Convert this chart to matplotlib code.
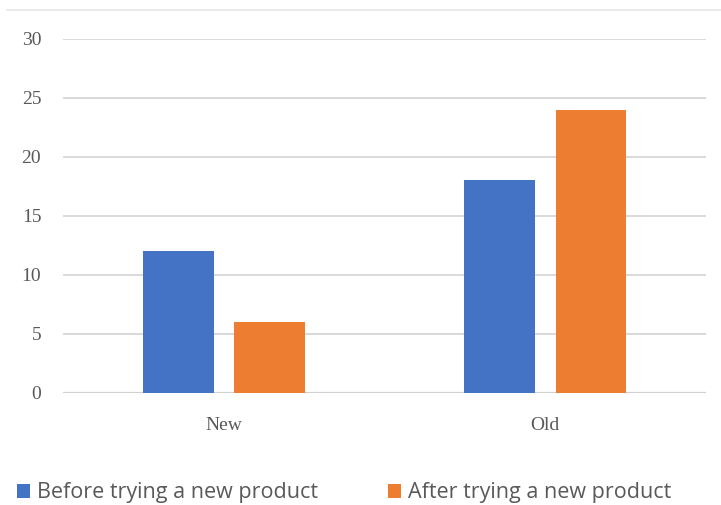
import matplotlib
matplotlib.use("Agg")
import matplotlib.pyplot as plt
from matplotlib.lines import Line2D
import numpy as np

CATEGORIES = ["New", "Old"]
BEFORE = [12, 18]
AFTER = [6, 24]
LABELS = ["Before trying a new product", "After trying a new product"]
COLORS = ["#4472C4", "#ED7D31"]
YTICKS = [0, 5, 10, 15, 20, 25, 30]

fig = plt.figure(figsize=(7.21, 5.05), dpi=100)
ax = fig.add_axes([0.088, 0.222, 0.891, 0.701])

x = np.arange(len(CATEGORIES))
w = 0.22
off = 0.1425
b1 = ax.bar(x - off, BEFORE, w, color=COLORS[0], label=LABELS[0], zorder=3)
b2 = ax.bar(x + off, AFTER, w, color=COLORS[1], label=LABELS[1], zorder=3)

ax.set_xlim(-0.5, 1.5)
ax.set_ylim(0, 30)
ax.set_yticks(YTICKS)
ax.set_xticks(x)
ax.set_xticklabels(CATEGORIES)
ax.grid(axis="y", color="#d9d9d9", linewidth=1.4, zorder=0)
for s in ax.spines.values():
    s.set_visible(False)
ax.axhline(0, color="#d0d0d0", linewidth=1.6, zorder=2)
ax.tick_params(length=0, colors="#595959", labelsize=14)
ax.tick_params(axis="y", pad=16)
ax.tick_params(axis="x", pad=17)
for t in ax.get_xticklabels() + ax.get_yticklabels():
    t.set_fontfamily("Liberation Serif")

# faint line at top of picture
fig.add_artist(Line2D([0.01, 1.0], [0.98, 0.98], color="#e6e6e6", linewidth=1.2))

leg = fig.legend(handles=[b1, b2], labels=LABELS, loc="center left",
                 bbox_to_anchor=(0.0117, 0.024), ncol=2, frameon=False,
                 borderaxespad=0, handlelength=0.6, handleheight=0.6,
                 handletextpad=0.33, columnspacing=3.25,
                 prop={"family": "Open Sans", "size": 15.5})
for t in leg.get_texts():
    t.set_color("#595959")

fig.savefig("out.png", dpi=100)
